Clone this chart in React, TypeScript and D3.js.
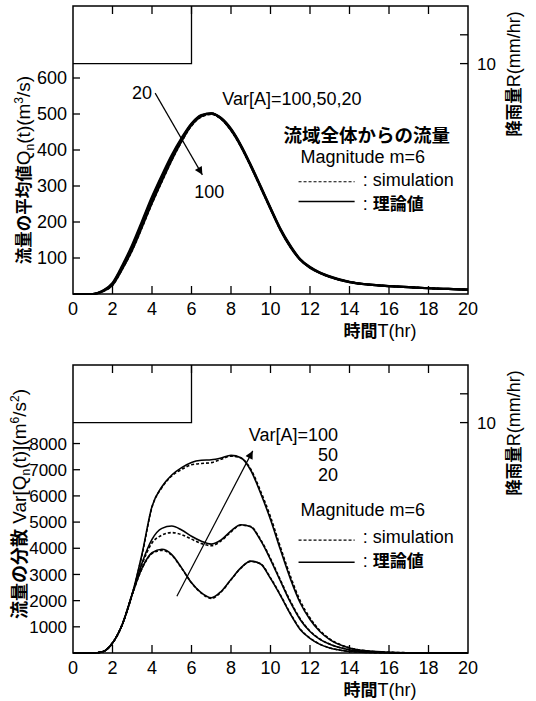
import React from "react";
import * as d3 from "d3";

// time grid (hr), shared by every series
const hours = [0, 1, 1.5, 2, 2.5, 3, 3.5, 4, 4.5, 5, 5.5, 6, 6.5, 7, 7.5, 8, 8.5, 9, 9.5, 10, 10.5, 11, 11.5, 12, 12.5, 13, 14, 15, 16, 17, 18, 19, 20];

// mean discharge Qn(t) (m3/s), Var[A] = 20, 50, 100
const meanTheory20 = [0, 0, 9, 31, 80, 137, 203, 270, 330, 386, 434, 474, 497, 502, 487, 455, 410, 355, 296, 236, 178, 131, 95, 73, 58, 47, 33, 26, 22, 19, 16, 14, 12];
const meanTheory50 = [0, 0, 8, 28, 75, 130, 195, 262, 322, 380, 430, 472, 496, 502, 488, 457, 412, 357, 298, 238, 180, 133, 96, 74, 59, 48, 33, 26, 22, 19, 16, 14, 12];
const meanTheory100 = [0, 0, 7, 25, 70, 123, 187, 253, 314, 373, 425, 469, 494, 501, 489, 459, 414, 359, 300, 240, 182, 135, 97, 75, 60, 49, 34, 26, 22, 19, 16, 14, 12];
const meanSim20 = [0, 0, 9, 30, 79, 135, 201, 268, 328, 384, 432, 472, 495, 500, 486, 454, 409, 354, 295, 236, 178, 131, 95, 73, 58, 47, 33, 26, 22, 19, 16, 14, 12];
const meanSim50 = [0, 0, 8, 27, 74, 128, 193, 260, 320, 378, 428, 470, 494, 500, 487, 456, 411, 356, 297, 237, 179, 132, 96, 74, 59, 48, 33, 26, 22, 19, 16, 14, 12];
const meanSim100 = [0, 0, 7, 24, 69, 121, 185, 251, 312, 371, 423, 467, 492, 499, 487, 458, 413, 358, 299, 239, 181, 134, 97, 75, 60, 49, 34, 26, 22, 19, 16, 14, 12];

// variance of discharge Var[Qn(t)] (m6/s2)
const varTheory100 = [0, 0, 50, 380, 1100, 2250, 3800, 5600, 6350, 6800, 7080, 7280, 7360, 7380, 7450, 7550, 7460, 6980, 6100, 5100, 3950, 2850, 1920, 1280, 820, 510, 190, 70, 25, 10, 4, 1, 0];
const varSim100 = [0, 0, 50, 380, 1100, 2250, 3760, 5570, 6320, 6760, 7010, 7190, 7240, 7270, 7400, 7520, 7450, 7020, 6180, 5200, 4050, 2950, 2000, 1340, 860, 540, 200, 75, 27, 11, 4, 1, 0];
const varTheory50 = [0, 0, 50, 380, 1100, 2250, 3450, 4340, 4760, 4850, 4700, 4460, 4270, 4160, 4320, 4660, 4900, 4820, 4300, 3570, 2750, 1950, 1280, 820, 520, 330, 120, 45, 15, 6, 2, 1, 0];
const varSim50 = [0, 0, 50, 380, 1100, 2250, 3400, 4200, 4500, 4600, 4520, 4350, 4180, 4100, 4280, 4630, 4880, 4830, 4330, 3610, 2790, 1990, 1310, 840, 535, 340, 125, 47, 16, 6, 2, 1, 0];
const varTheory20 = [0, 0, 50, 380, 1100, 2250, 3250, 3830, 3960, 3760, 3250, 2680, 2300, 2110, 2350, 2810, 3250, 3510, 3400, 2850, 2200, 1500, 900, 560, 330, 190, 60, 20, 7, 3, 1, 0, 0];
const varSim20 = [0, 0, 50, 380, 1100, 2240, 3230, 3800, 3920, 3740, 3240, 2680, 2290, 2080, 2330, 2800, 3240, 3500, 3410, 2870, 2220, 1520, 920, 570, 340, 195, 62, 21, 7, 3, 1, 0, 0];

// rainfall R (mm/hr): 10 mm/hr during the first 6 hours
const rainHours = [0, 6];
const rainRate = [10, 0];

const xTicks = [0, 2, 4, 6, 8, 10, 12, 14, 16, 18, 20];
const meanTicks = [100, 200, 300, 400, 500, 600];
const varTicks = [1000, 2000, 3000, 4000, 5000, 6000, 7000, 8000];
const rainTicks = [5, 10];
const rainLabels = [10];

const PLOT_L = 73, PLOT_R = 468, PLOT_H = 288;
const TOP1 = 6, TOP2 = 365;
const LATIN = "'Liberation Sans', Arial, sans-serif";
const CJK = "'Noto Sans CJK JP', sans-serif";

const x = d3.scaleLinear().domain([0, 20]).range([PLOT_L, PLOT_R]);

function makeLine(y) {
  return d3.line().x((_, i) => x(hours[i])).y(d => y(d)).curve(d3.curveMonotoneX);
}

function Frame({ top, y, ticks, tickFont }) {
  const bottom = top + PLOT_H;
  const yR = d3.scaleLinear().domain([0, 50]).range([top, bottom]);
  const rainPath = d3.line().x((_, i) => x(rainHours[i])).y(d => yR(d)).curve(d3.curveStepAfter)(rainRate);
  return (
    <g>
      <path d={rainPath} fill="none" stroke="#000" strokeWidth={1.3} />
      <rect x={PLOT_L} y={top} width={PLOT_R - PLOT_L} height={PLOT_H} fill="none" stroke="#000" strokeWidth={1.5} />
      {xTicks.slice(1, -1).map(t => (
        <g key={t}>
          <line x1={x(t)} x2={x(t)} y1={bottom} y2={bottom - 8} stroke="#000" strokeWidth={1.3} />
          <line x1={x(t)} x2={x(t)} y1={top} y2={top + 8} stroke="#000" strokeWidth={1.3} />
        </g>
      ))}
      {xTicks.map(t => (
        <text key={t} x={x(t)} y={bottom + 21} textAnchor="middle" fontFamily={LATIN} fontSize={18}>{t}</text>
      ))}
      {ticks.map(v => (
        <g key={v}>
          <line x1={PLOT_L} x2={PLOT_L + 7} y1={y(v)} y2={y(v)} stroke="#000" strokeWidth={1.3} />
          <text x={PLOT_L - 6} y={y(v)} dy="0.36em" textAnchor="end" fontFamily={LATIN} fontSize={tickFont}>{v}</text>
        </g>
      ))}
      {rainTicks.map(r => (
        <line key={r} x1={PLOT_R - 8} x2={PLOT_R} y1={yR(r)} y2={yR(r)} stroke="#000" strokeWidth={1.3} />
      ))}
      {rainLabels.map(r => (
        <text key={r} x={PLOT_R + 9} y={yR(r)} dy="0.36em" fontFamily={LATIN} fontSize={17}>{r}</text>
      ))}
      <text x={380} y={bottom + 43} textAnchor="middle" fontSize={18}>
        <tspan fontFamily={CJK} fontWeight="bold" fontSize={17}>時間</tspan>
        <tspan fontFamily={LATIN}>T(hr)</tspan>
      </text>
      <text transform={`translate(520,${top + 68}) rotate(-90)`} textAnchor="middle" fontSize={18}>
        <tspan fontFamily={CJK} fontWeight="bold" fontSize={16.5}>降雨量</tspan>
        <tspan fontFamily={LATIN}>R(mm/hr)</tspan>
      </text>
    </g>
  );
}

function Legend({ y, base, dashY, solidY, simY, theoY }) {
  return (
    <g fontFamily={LATIN} fontSize={18}>
      <line x1={x(11.42)} x2={x(14.26)} y1={y(dashY)} y2={y(dashY)} stroke="#000" strokeWidth={1.1} strokeDasharray="3,2" />
      <text x={x(14.67)} y={y(simY)}>: simulation</text>
      <line x1={x(11.42)} x2={x(14.26)} y1={y(solidY)} y2={y(solidY)} stroke="#000" strokeWidth={1.5} />
      <text x={x(14.67)} y={y(theoY)}>:<tspan fontFamily={CJK} fontWeight="bold" fontSize={17} dx={5}>理論値</tspan></text>
      <text x={x(11.52)} y={y(base)}>Magnitude m=6</text>
    </g>
  );
}

export default function App() {
  const yMean = d3.scaleLinear().domain([0, 800]).range([TOP1 + PLOT_H, TOP1]);
  const yVar = d3.scaleLinear().domain([0, 11000]).range([TOP2 + PLOT_H, TOP2]);
  const meanLine = makeLine(yMean);
  const varLine = makeLine(yVar);

  const meanSeries = [
    { v: meanSim20, dash: true }, { v: meanSim50, dash: true }, { v: meanSim100, dash: true },
    { v: meanTheory20, dash: false }, { v: meanTheory50, dash: false }, { v: meanTheory100, dash: false },
  ];
  const varSeries = [
    { v: varSim100, dash: true }, { v: varSim50, dash: true }, { v: varSim20, dash: true },
    { v: varTheory100, dash: false }, { v: varTheory50, dash: false }, { v: varTheory20, dash: false },
  ];

  return (
    <svg width={536} height={701} style={{ position: "absolute", left: 0, top: 0, background: "#fff" }}>
      <defs>
        <marker id="head" viewBox="0 0 10 10" refX={10} refY={5} markerWidth={11} markerHeight={8} markerUnits="userSpaceOnUse" orient="auto">
          <path d="M0,0 L10,5 L0,10 Z" fill="#000" />
        </marker>
      </defs>

      {/* upper panel: mean discharge */}
      <Frame top={TOP1} y={yMean} ticks={meanTicks} tickFont={18} />
      {meanSeries.map((s, i) => (
        <path key={i} d={meanLine(s.v)} fill="none" stroke="#000" strokeWidth={s.dash ? 1.6 : 2.2}
          strokeDasharray={s.dash ? "3,2" : undefined} />
      ))}
      <text x={x(4.0)} y={yMean(541)} textAnchor="end" fontFamily={LATIN} fontSize={18}>20</text>
      <line x1={x(4.16)} y1={yMean(558)} x2={x(6.55)} y2={yMean(331)} stroke="#000" strokeWidth={1.2} markerEnd="url(#head)" />
      <text x={x(6.9)} y={yMean(267)} textAnchor="middle" fontFamily={LATIN} fontSize={18}>100</text>
      <text x={x(7.56)} y={yMean(524)} fontFamily={LATIN} fontSize={18}>Var[A]=100,50,20</text>
      <text x={x(10.66)} y={yMean(422)} fontFamily={CJK} fontWeight="bold" fontSize={18.5}>流域全体からの流量</text>
      <Legend y={yMean} base={364} dashY={312} solidY={257} simY={300} theoY={232} />
      <text transform={`translate(30,170) rotate(-90)`} textAnchor="middle" fontSize={19}>
        <tspan fontFamily={CJK} fontWeight="bold" fontSize={16.5}>流量の平均値</tspan>
        <tspan fontFamily={LATIN}>Q</tspan>
        <tspan fontFamily={LATIN} fontSize={12} dy={4}>n</tspan>
        <tspan fontFamily={LATIN} dy={-4}>(t)(m</tspan>
        <tspan fontFamily={LATIN} fontSize={12} dy={-7}>3</tspan>
        <tspan fontFamily={LATIN} dy={7}>/s)</tspan>
      </text>

      {/* lower panel: variance of discharge */}
      <Frame top={TOP2} y={yVar} ticks={varTicks} tickFont={17} />
      {varSeries.map((s, i) => (
        <path key={i} d={varLine(s.v)} fill="none" stroke="#000" strokeWidth={1.6}
          strokeDasharray={s.dash ? "3,2" : undefined} />
      ))}
      <line x1={x(5.26)} y1={yVar(2170)} x2={x(9.1)} y2={yVar(7720)} stroke="#000" strokeWidth={1.2} markerEnd="url(#head)" />
      <g fontFamily={LATIN} fontSize={18} textAnchor="end">
        <text x={x(13.42)} y={yVar(8100)}>Var[A]=100</text>
        <text x={x(13.42)} y={yVar(7330)}>50</text>
        <text x={x(13.42)} y={yVar(6570)}>20</text>
      </g>
      <Legend y={yVar} base={5230} dashY={4310} solidY={3470} simY={4220} theoY={3280} />
      <text transform={`translate(26,504) rotate(-90)`} textAnchor="middle" fontSize={19}>
        <tspan fontFamily={CJK} fontWeight="bold" fontSize={18}>流量の分散</tspan>
        <tspan fontFamily={LATIN}> Var[Q</tspan>
        <tspan fontFamily={LATIN} fontSize={12} dy={4}>n</tspan>
        <tspan fontFamily={LATIN} dy={-4}>(t)](m</tspan>
        <tspan fontFamily={LATIN} fontSize={12} dy={-7}>6</tspan>
        <tspan fontFamily={LATIN} dy={7}>/s</tspan>
        <tspan fontFamily={LATIN} fontSize={12} dy={-7}>2</tspan>
        <tspan fontFamily={LATIN} dy={7}>)</tspan>
      </text>
    </svg>
  );
}
